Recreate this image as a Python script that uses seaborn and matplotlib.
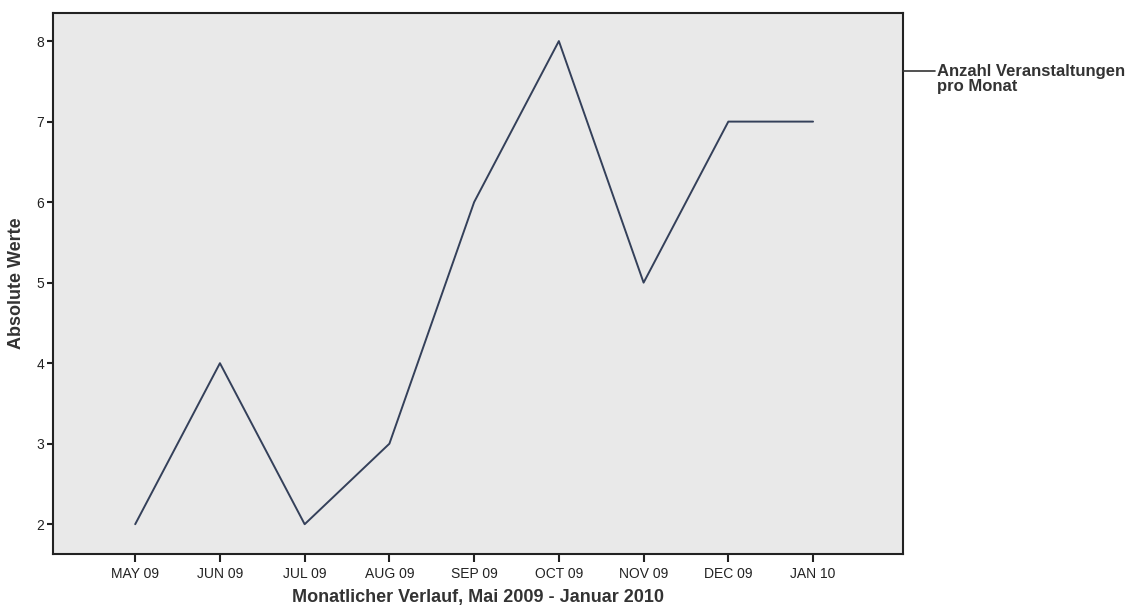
import matplotlib
matplotlib.use("Agg")
import matplotlib.pyplot as plt
import seaborn as sns
import pandas as pd
import numpy as np
from matplotlib.legend_handler import HandlerLine2D

months = ["MAY 09", "JUN 09", "JUL 09", "AUG 09", "SEP 09", "OCT 09", "NOV 09", "DEC 09", "JAN 10"]
values = [2, 4, 2, 3, 6, 8, 5, 7, 7]
series_label = "Anzahl Veranstaltungen\npro Monat"
yticks = [2, 3, 4, 5, 6, 7, 8]

sns.set_theme(style="white")
plt.rcParams['font.family'] = ['Liberation Sans', 'DejaVu Sans']


class ShiftedLine(HandlerLine2D):
    def __init__(self, dy, **kw):
        super().__init__(**kw)
        self.dy = dy

    def create_artists(self, legend, orig_handle, xdescent, ydescent, width, height, fontsize, trans):
        arts = super().create_artists(legend, orig_handle, xdescent, ydescent, width, height, fontsize, trans)
        for a in arts:
            a.set_ydata(np.asarray(a.get_ydata(), dtype=float) + self.dy)
        return arts


df = pd.DataFrame({"idx": range(len(months)), "val": values})

fig = plt.figure(figsize=(11.4, 6.14), dpi=100)
ax = fig.add_axes([0.0465, 0.0977, 0.7455, 0.8813])
ax.set_facecolor("#e9e9e9")
sns.lineplot(data=df, x="idx", y="val", ax=ax, color="#34405a", linewidth=1.4, label=series_label)

ax.set_xlim(-0.97, 9.06)
ax.set_ylim(1.63, 8.35)
ax.set_xticks(range(len(months)))
ax.set_xticklabels(months)
ax.set_yticks(yticks)
ax.tick_params(axis="both", which="major", bottom=True, left=True, direction="out",
               width=1.5, color="#222222", labelsize=10, labelcolor="#222222")
ax.tick_params(axis="x", length=6, pad=3)
ax.tick_params(axis="y", length=4.5, pad=2)
for s in ax.spines.values():
    s.set_color("#222222")
    s.set_linewidth(1.5)

ax.set_xlabel("Monatlicher Verlauf, Mai 2009 - Januar 2010", fontsize=13, fontweight="bold",
              color="#333333", labelpad=6)
ax.set_ylabel("Absolute Werte", fontsize=13, fontweight="bold", color="#333333", labelpad=8)

handles, labels = ax.get_legend_handles_labels()
leg = fig.legend(handles, labels, loc="upper left", bbox_to_anchor=(903 / 1140, 1 - 64 / 614),
                 frameon=False, handlelength=1.9, handletextpad=0.15, borderaxespad=0.0, borderpad=0.0,
                 prop={"weight": "bold", "size": 12},
                 handler_map={handles[0]: ShiftedLine(dy=6)})
for t in leg.get_texts():
    t.set_color("#333333")
    t.set_linespacing(1.0)
for h in leg.get_lines():
    h.set_color("#333333")
    h.set_linewidth(1.2)
ax.get_legend().remove()

fig.savefig("out.png", dpi=100, facecolor="white")
